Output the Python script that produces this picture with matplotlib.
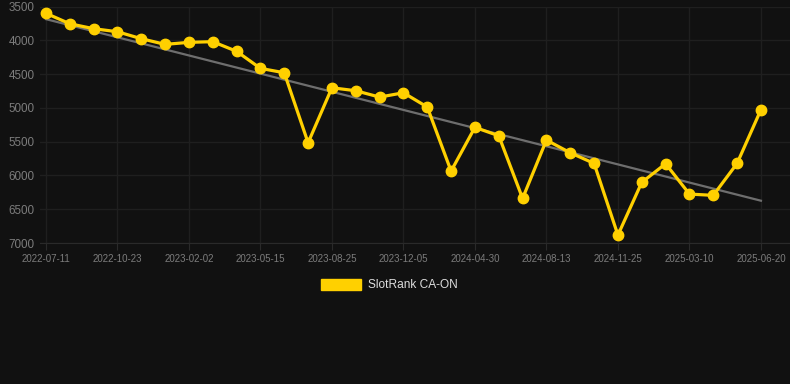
import numpy as np
import matplotlib
matplotlib.use("Agg")
import matplotlib.pyplot as plt
from matplotlib.patches import Patch

### DATA ###
# one point per sample, category axis (only every 3rd date labelled)
dates = ['2022-07-11', '2022-08-15', '2022-09-19', '2022-10-23', '2022-11-26',
         '2022-12-30', '2023-02-02', '2023-03-07', '2023-04-11', '2023-05-15',
         '2023-06-18', '2023-07-22', '2023-08-25', '2023-09-28', '2023-11-01',
         '2023-12-05', '2024-01-23', '2024-03-12', '2024-04-30', '2024-06-04',
         '2024-07-09', '2024-08-13', '2024-09-16', '2024-10-21', '2024-11-25',
         '2024-12-30', '2025-02-03', '2025-03-10', '2025-04-13', '2025-05-17',
         '2025-06-20']
ranks = [3600, 3755, 3828, 3873, 3976, 4060, 4030, 4020, 4163, 4415,
         4480, 5516, 4702, 4746, 4840, 4776, 4987, 5935, 5288, 5412,
         6339, 5476, 5664, 5821, 6882, 6102, 5826, 6275, 6294, 5821,
         5027]
series_name = 'SlotRank CA-ON'
y_ticks = [3500, 4000, 4500, 5000, 5500, 6000, 6500, 7000]

bg = '#111111'
grid_col = '#1f1f1f'
label_col = '#7c7c7c'
yellow = '#FFD000'

plt.rcParams['font.family'] = ['Liberation Sans', 'DejaVu Sans']

fig = plt.figure(figsize=(7.9, 3.84), dpi=100, facecolor=bg)
ax = fig.add_axes([0.0506, 0.367, 0.9494, 0.616])
ax.set_facecolor(bg)

x = np.arange(len(ranks))

# trend line (least squares fit)
k, b = np.polyfit(x, ranks, 1)
ax.plot(x, k * x + b, color='#6e6e6e', linewidth=1.6, zorder=2)

ax.plot(x, ranks, color=yellow, linewidth=2.3, marker='o', markersize=7.5,
        zorder=3)

ax.set_ylim(7000, 3500)
ax.set_xlim(-0.25, 31.22)
ax.set_yticks(y_ticks)
ax.set_yticklabels([str(v) for v in y_ticks])
ax.set_xticks(x[::3])
ax.set_xticklabels(dates[::3])

ax.grid(True, color=grid_col, linewidth=1)
ax.set_axisbelow(True)
for s in ax.spines.values():
    s.set_visible(False)
ax.spines['bottom'].set_visible(True)
ax.spines['bottom'].set_color('#2a2a2a')
ax.tick_params(axis='y', length=0, pad=4, labelsize=8.4, labelcolor=label_col)
ax.tick_params(axis='x', length=5, color='#2a2a2a', pad=3, labelsize=7,
               labelcolor=label_col)

fig.legend(handles=[Patch(facecolor=yellow, edgecolor=yellow)],
           labels=[series_name], loc='center', bbox_to_anchor=(0.493, 0.258),
           frameon=False, fontsize=8.6, labelcolor='#dddddd',
           handlelength=3.35, handleheight=1.1, handletextpad=0.6)

fig.savefig('out.png', dpi=100, facecolor=bg)
